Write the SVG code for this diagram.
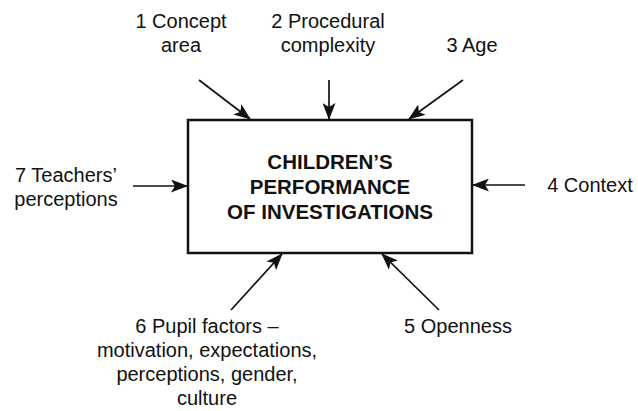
<svg xmlns="http://www.w3.org/2000/svg" width="638" height="411" viewBox="0 0 638 411">
<style>
.lbl{font-family:"Liberation Sans",Arial,sans-serif;font-size:20px;fill:#111;text-anchor:middle}
.ttl{font-family:"Liberation Sans",Arial,sans-serif;font-size:20.5px;font-weight:bold;fill:#111;text-anchor:middle}
.box{fill:#fff;stroke:#111;stroke-width:2.5}
.conn{stroke:#111;stroke-width:1.7;fill:none;marker-end:url(#ah)}
</style>
<defs>
<marker id="ah" markerWidth="17" markerHeight="13" refX="16" refY="6.5" orient="auto" markerUnits="userSpaceOnUse">
<path d="M0,0 L17,6.5 L0,13 L4,6.5 Z" fill="#111"/>
</marker>
</defs>
<rect width="638" height="411" fill="#fff"/>
<g id="center">
<rect class="box" x="188" y="120" width="284" height="133"/>
<text class="ttl" x="330" y="169">CHILDREN’S</text>
<text class="ttl" x="330" y="194">PERFORMANCE</text>
<text class="ttl" x="330" y="219">OF INVESTIGATIONS</text>
</g>
<g id="n1"><text class="lbl" x="181" y="28">1 Concept</text><text class="lbl" x="181" y="52">area</text></g>
<g id="n2"><text class="lbl" x="328" y="28">2 Procedural</text><text class="lbl" x="328" y="52">complexity</text></g>
<g id="n3"><text class="lbl" x="472" y="52">3 Age</text></g>
<g id="n4"><text class="lbl" x="590" y="192">4 Context</text></g>
<g id="n5"><text class="lbl" x="458" y="333">5 Openness</text></g>
<g id="n6"><text class="lbl" x="207" y="333">6 Pupil factors –</text><text class="lbl" x="207" y="357">motivation, expectations,</text><text class="lbl" x="207" y="381">perceptions, gender,</text><text class="lbl" x="207" y="405">culture</text></g>
<g id="n7"><text class="lbl" x="66" y="182">7 Teachers’</text><text class="lbl" x="66" y="206">perceptions</text></g>
<g id="connectors">
<line class="conn" x1="199" y1="80" x2="250" y2="119"/>
<line class="conn" x1="329" y1="80" x2="329" y2="119"/>
<line class="conn" x1="463" y1="80" x2="409" y2="119"/>
<line class="conn" x1="525" y1="185" x2="473" y2="185"/>
<line class="conn" x1="133" y1="186" x2="187" y2="186"/>
<line class="conn" x1="231" y1="310" x2="282" y2="254"/>
<line class="conn" x1="439" y1="310" x2="382" y2="254"/>
</g>
</svg>
